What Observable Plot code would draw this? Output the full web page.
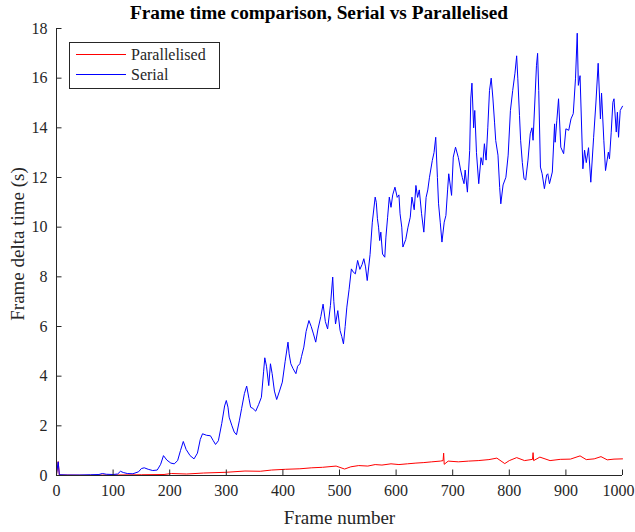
<!DOCTYPE html>
<html>
<head>
<meta charset="utf-8">
<script src="https://cdn.jsdelivr.net/npm/d3@7"></script>
<script src="https://cdn.jsdelivr.net/npm/@observablehq/plot@0.6"></script>
<style>
  html, body { margin: 0; padding: 0; background: #fff; }
  #wrap { position: relative; width: 635px; height: 532px; overflow: hidden; font-family: "Liberation Serif", "Times New Roman", serif; color: #262626; }
  #title { position: absolute; left: 19px; width: 600px; top: 3px; text-align: center; font-weight: bold; font-size: 19.3px; line-height: 20px; color: #000; white-space: nowrap; }
  #legend { position: absolute; left: 69px; top: 42px; }
</style>
</head>
<body>
<div id="wrap">
  <div id="chart"></div>
  <div id="title"></div>
  <div id="legend"></div>
</div>
<script>
// ---- data ----
const titleText = "Frame time comparison, Serial vs Parallelised";
const xLabel = "Frame number";
const yLabel = "Frame delta time (s)";
const seriesNames = ["Parallelised", "Serial"];
const seriesColors = ["#ff0000", "#0000ff"];
const xTicks = [0, 100, 200, 300, 400, 500, 600, 700, 800, 900, 1000];
const yTicks = [0, 2, 4, 6, 8, 10, 12, 14, 16, 18];

const serialFrames = [0,3,5,20,40,60,75,81,88,100,108,113,118,125,135,145,150,155,162,170,178,184,189,195,202,208,214,219,224,229,236,243,249,254,258,265,272,277,281,286,292,297,300,303,305,310,314,318,323,327,332,336,340,343,347,352,357,362,366,368,371,375,378,381,385,389,394,399,404,409,411,414,418,423,426,430,433,437,441,446,450,454,458,462,467,471,475,479,484,488,490,493,497,501,504,507,510,513,517,521,524,528,532,536,540,543,546,549,554,558,563,565,567,569,571,573,576,580,582,585,588,591,594,598,602,605,607,610,612,617,621,625,628,632,635,638,641,645,649,653,656,659,664,667,670,673,675,678,681,685,688,691,693,698,701,705,710,714,717,720,722,726,730,732,734,737,739,742,746,750,753,756,759,762,765,768,771,774,776,780,783,785,789,794,798,802,806,810,813,815,818,820,823,826,829,833,837,840,842,845,848,850,852,855,858,862,866,868,871,876,880,881,884,887,891,896,900,905,909,913,917,920,922,925,930,933,936,940,944,949,953,957,961,963,967,970,975,977,980,983,985,989,991,993,996,1000];
const serialTimes = [0.05,0.55,0.03,0.02,0.02,0.03,0.04,0.08,0.05,0.04,0.06,0.17,0.12,0.08,0.07,0.15,0.28,0.31,0.25,0.2,0.22,0.45,0.8,0.62,0.5,0.47,0.6,1.0,1.37,1.05,0.8,0.67,0.9,1.45,1.68,1.62,1.6,1.4,1.25,1.4,2.1,2.8,3.02,2.75,2.35,2.0,1.75,1.64,2.2,2.69,3.3,3.6,3.1,2.75,2.7,2.59,2.85,3.15,4.2,4.74,4.4,3.62,4.5,4.1,3.4,3.06,3.4,3.76,4.6,5.37,4.9,4.5,4.3,4.1,4.4,4.5,4.8,5.17,5.8,6.24,6.0,5.7,5.37,5.9,6.4,6.9,6.2,5.9,6.85,7.99,7.0,6.1,6.64,5.84,5.6,5.3,6.0,6.78,7.5,8.32,8.2,8.12,8.66,8.3,8.5,8.73,8.4,7.85,8.9,10.2,11.21,11.0,10.34,10.0,9.46,9.8,8.92,8.79,9.6,10.4,11.21,10.8,11.3,11.61,11.2,11.3,10.54,10.0,9.2,9.5,10.0,10.4,11.21,10.7,11.68,11.2,11.5,10.54,9.8,11.2,11.5,12.01,12.69,13.0,13.62,12.0,10.94,10.2,9.4,10.2,10.47,11.5,12.15,11.28,12.82,13.22,12.8,12.3,12.0,11.75,12.3,11.41,13.09,15.2,15.8,14.0,14.7,13.0,11.75,12.8,12.5,13.36,12.7,14.0,15.5,16.0,15.2,14.2,13.49,12.9,11.6,10.94,11.7,12.01,12.9,14.7,15.5,16.2,16.9,16.0,14.5,13.5,12.6,11.95,11.9,12.7,13.76,14.0,13.5,15.0,16.5,17.0,15.5,12.42,12.15,11.55,12.1,12.15,11.75,12.22,14.16,13.42,14.3,15.17,13.22,12.96,13.96,13.9,14.36,14.57,16.0,17.81,15.71,16.1,12.35,13.1,12.6,13.2,11.81,13.62,15.0,16.6,14.36,15.4,13.5,12.28,13.02,12.75,13.8,15.03,15.17,13.83,14.63,13.62,14.7,14.87];

const parFrames = [0,3,5,50,100,150,190,203,230,260,300,333,360,380,405,430,451,470,494,509,520,534,550,563,575,591,605,620,635,649,663,678,683,684,685,692,710,728,745,764,778,792,800,813,827,841,842,843,854,872,890,908,925,936,950,962,973,985,1000];
const parTimes = [0.02,0.56,0.02,0.01,0.02,0.03,0.04,0.08,0.06,0.1,0.13,0.18,0.17,0.22,0.25,0.27,0.31,0.33,0.38,0.26,0.35,0.4,0.38,0.44,0.42,0.47,0.44,0.47,0.5,0.52,0.55,0.58,0.6,0.9,0.45,0.58,0.55,0.58,0.6,0.64,0.7,0.48,0.6,0.72,0.6,0.65,0.92,0.6,0.74,0.6,0.65,0.66,0.79,0.64,0.67,0.76,0.63,0.66,0.67];

// ---- build tables ----
const serial = serialFrames.map((f, i) => ({frame: f, t: serialTimes[i]}));
const par = parFrames.map((f, i) => ({frame: f, t: parTimes[i]}));

const W = 635, H = 532, mt = 28, mb = 57, ml = 56, mr = 13;
const axisColor = "#262626";
const serif = "Liberation Serif";
const tickLen = 5.5;
const axisText = {tickSize: 0, tickPadding: 9, label: null, fill: axisColor, fontFamily: serif, fontSize: 16, tickFormat: d => String(d)};

const chart = Plot.plot({
  width: W, height: H,
  marginTop: mt, marginBottom: mb, marginLeft: ml, marginRight: mr,
  x: {domain: [0, 1000]},
  y: {domain: [0, 18]},
  style: {fontFamily: serif, fontSize: "16px", color: axisColor, background: "white", overflow: "visible"},
  marks: [
    Plot.line(par, {x: "frame", y: "t", stroke: seriesColors[0], strokeWidth: 1}),
    Plot.line(serial, {x: "frame", y: "t", stroke: seriesColors[1], strokeWidth: 1}),
    Plot.ruleX([0], {stroke: axisColor, strokeWidth: 1}),
    Plot.ruleY([0], {stroke: axisColor, strokeWidth: 1}),
    Plot.tickX(xTicks, {x: d => d, insetTop: (H - mt - mb) - tickLen, stroke: axisColor}),
    Plot.tickY(yTicks, {y: d => d, insetRight: (W - ml - mr) - tickLen, stroke: axisColor}),
    Plot.axisX(xTicks.slice(0, -1), axisText),
    Plot.axisX(xTicks.slice(-1), {...axisText, dx: -4}),
    Plot.axisY(yTicks, axisText),
    Plot.text([xLabel], {frameAnchor: "bottom", dy: 42, lineAnchor: "middle", textAnchor: "middle", fontSize: 19, fontFamily: serif, fill: axisColor}),
    Plot.text([yLabel], {frameAnchor: "left", dx: -39, dy: -8, rotate: -90, textAnchor: "middle", lineAnchor: "middle", fontSize: 19, fontFamily: serif, fill: axisColor})
  ]
});
document.getElementById("chart").appendChild(chart);
document.getElementById("title").textContent = titleText;

// legend drawn as a small svg box
const svgNS = "http://www.w3.org/2000/svg";
const lg = document.createElementNS(svgNS, "svg");
lg.setAttribute("width", 151);
lg.setAttribute("height", 47);
const box = document.createElementNS(svgNS, "rect");
box.setAttribute("x", 0.5); box.setAttribute("y", 0.5);
box.setAttribute("width", 150); box.setAttribute("height", 46);
box.setAttribute("fill", "#fff"); box.setAttribute("stroke", axisColor);
lg.appendChild(box);
seriesNames.forEach((name, i) => {
  const y = 12.5 + i * 20;
  const ln = document.createElementNS(svgNS, "line");
  ln.setAttribute("x1", 7); ln.setAttribute("x2", 57);
  ln.setAttribute("y1", y); ln.setAttribute("y2", y);
  ln.setAttribute("stroke", seriesColors[i]);
  ln.setAttribute("stroke-width", 1);
  lg.appendChild(ln);
  const tx = document.createElementNS(svgNS, "text");
  tx.setAttribute("x", 62); tx.setAttribute("y", y);
  tx.setAttribute("dy", "0.35em");
  tx.setAttribute("font-family", serif);
  tx.setAttribute("font-size", 16);
  tx.setAttribute("fill", axisColor);
  tx.textContent = name;
  lg.appendChild(tx);
});
document.getElementById("legend").appendChild(lg);
</script>
</body>
</html>
